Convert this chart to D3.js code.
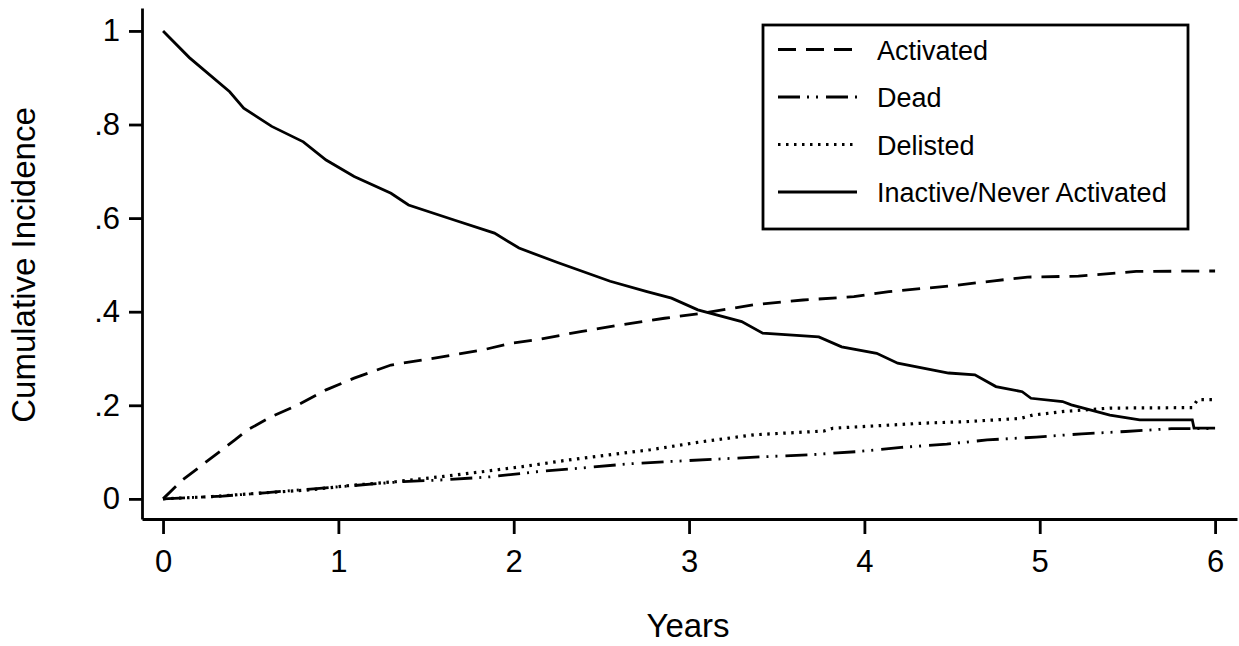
<!DOCTYPE html>
<html>
<head>
<meta charset="utf-8">
<script src="https://cdn.jsdelivr.net/npm/d3@7"></script>
<style>
  body { margin: 0; background: #fff; }
  #chart { width: 1239px; height: 646px; }
  text { font-family: "Liberation Sans", Arial, sans-serif; fill: #000; }
</style>
</head>
<body>
<div id="chart"></div>
<script>
// values
var seriesNames = ["Activated", "Dead", "Delisted", "Inactive/Never Activated"];

var activatedYears = [0, 0.11, 0.225, 0.41, 0.48, 0.62, 0.77, 0.93, 1.09, 1.30, 1.50, 1.66, 1.82, 1.99, 2.13, 2.39, 2.58, 2.86, 3.08, 3.37, 3.65, 3.94, 4.14, 4.49, 4.74, 4.93, 5.22, 5.55, 5.97, 6.0];
var activatedValues = [0, 0.04, 0.073, 0.126, 0.147, 0.176, 0.201, 0.233, 0.258, 0.286, 0.298, 0.308, 0.318, 0.333, 0.340, 0.358, 0.370, 0.386, 0.397, 0.415, 0.425, 0.432, 0.443, 0.455, 0.466, 0.474, 0.476, 0.486, 0.487, 0.487];

var deadYears = [0, 0.34, 0.58, 0.84, 1.37, 1.62, 1.86, 2.13, 2.39, 2.66, 2.90, 3.16, 3.42, 3.68, 3.96, 4.21, 4.47, 4.70, 4.98, 5.24, 5.49, 5.75, 6.0];
var deadValues = [0, 0.006, 0.013, 0.021, 0.037, 0.041, 0.047, 0.058, 0.066, 0.075, 0.080, 0.085, 0.090, 0.094, 0.101, 0.110, 0.117, 0.126, 0.132, 0.139, 0.144, 0.150, 0.150];

var delistedYears = [0, 0.28, 0.54, 0.83, 1.05, 1.33, 1.60, 1.82, 2.05, 2.31, 2.54, 2.78, 3.07, 3.37, 3.77, 3.82, 4.35, 4.58, 4.89, 4.96, 5.14, 5.40, 5.87, 5.90, 6.0];
var delistedValues = [0, 0.005, 0.012, 0.019, 0.028, 0.037, 0.048, 0.058, 0.069, 0.083, 0.094, 0.105, 0.122, 0.137, 0.145, 0.151, 0.162, 0.165, 0.172, 0.179, 0.187, 0.194, 0.195, 0.212, 0.212];

var inactiveYears = [0, 0.15, 0.38, 0.46, 0.62, 0.80, 0.93, 1.09, 1.30, 1.40, 1.66, 1.89, 2.03, 2.25, 2.55, 2.76, 2.90, 3.05, 3.30, 3.42, 3.74, 3.87, 4.07, 4.19, 4.48, 4.63, 4.75, 4.90, 4.95, 5.13, 5.18, 5.40, 5.57, 5.87, 5.88, 6.0];
var inactiveValues = [1.0, 0.943, 0.870, 0.835, 0.796, 0.763, 0.724, 0.689, 0.653, 0.628, 0.596, 0.568, 0.536, 0.505, 0.465, 0.443, 0.429, 0.404, 0.379, 0.354, 0.346, 0.325, 0.311, 0.290, 0.269, 0.265, 0.240, 0.229, 0.215, 0.208, 0.201, 0.179, 0.169, 0.169, 0.151, 0.151];

var xTicks = [0, 1, 2, 3, 4, 5, 6];
var yTicks = [0, 0.2, 0.4, 0.6, 0.8, 1];
var yTickLabels = ["0", ".2", ".4", ".6", ".8", "1"];

var dashes = ["18,10", "22,7,2,7,2,8", "2.5,5.5", null];

var svg = d3.select("#chart").append("svg")
    .attr("width", 1239)
    .attr("height", 646);

var x = d3.scaleLinear().domain([-0.12, 6.125]).range([142, 1237]),
    y = d3.scaleLinear().domain([-0.043, 1.049]).range([519, 8]);

var series = [
    {name: seriesNames[0], t: activatedYears, v: activatedValues, dash: dashes[0]},
    {name: seriesNames[1], t: deadYears, v: deadValues, dash: dashes[1]},
    {name: seriesNames[2], t: delistedYears, v: delistedValues, dash: dashes[2]},
    {name: seriesNames[3], t: inactiveYears, v: inactiveValues, dash: dashes[3]}
];

var line = d3.line()
    .x(function (d) { return x(d[0]); })
    .y(function (d) { return y(d[1]); });

svg.selectAll(".curve")
    .data(series)
    .enter().append("path")
    .attr("class", "curve")
    .attr("fill", "none")
    .attr("stroke", "#000")
    .attr("stroke-width", function (d) { return d.dash == dashes[2] ? 3.2 : 2.8; })
    .attr("stroke-dasharray", function (d) { return d.dash; })
    .attr("d", function (d) {
        return line(d.t.map(function (t, i) { return [t, d.v[i]]; }));
    });

// axes
var yAxis = svg.append("g")
    .attr("transform", "translate(142,0)")
    .call(d3.axisLeft(y)
        .tickValues(yTicks)
        .tickFormat(function (d, i) { return yTickLabels[i]; })
        .tickSize(13)
        .tickSizeOuter(0)
        .tickPadding(9));

var xAxis = svg.append("g")
    .attr("transform", "translate(0,519)")
    .call(d3.axisBottom(x)
        .tickValues(xTicks)
        .tickFormat(d3.format("d"))
        .tickSize(15)
        .tickSizeOuter(0));

svg.selectAll(".domain, .tick line")
    .attr("stroke", "#000")
    .attr("stroke-width", 2.8);

yAxis.selectAll("text")
    .style("font-size", "31px")
    .style("font-family", "'Liberation Sans', Arial, sans-serif");

xAxis.selectAll("text")
    .attr("y", 53)
    .attr("dy", 0)
    .style("font-size", "31px")
    .style("font-family", "'Liberation Sans', Arial, sans-serif");

svg.append("text")
    .attr("transform", "translate(35,265)rotate(-90)")
    .attr("text-anchor", "middle")
    .style("font-size", "33px")
    .text("Cumulative Incidence");

svg.append("text")
    .attr("x", 688)
    .attr("y", 637)
    .attr("text-anchor", "middle")
    .style("font-size", "33px")
    .text("Years");

// legend
var legend = svg.append("g");

legend.append("rect")
    .attr("x", 763)
    .attr("y", 25)
    .attr("width", 425)
    .attr("height", 204)
    .attr("fill", "#fff")
    .attr("stroke", "#000")
    .attr("stroke-width", 2.8);

var rows = legend.selectAll(".row")
    .data(series)
    .enter().append("g")
    .attr("class", "row")
    .attr("transform", function (d, i) { return "translate(0," + (49.5 + i * 47.5) + ")"; });

rows.append("line")
    .attr("x1", 778)
    .attr("x2", 857)
    .attr("stroke", "#000")
    .attr("stroke-width", function (d) { return d.dash == dashes[2] ? 3.2 : 2.8; })
    .attr("stroke-dasharray", function (d) { return d.dash; });

rows.append("text")
    .attr("x", 877)
    .attr("y", 10)
    .style("font-size", "27px")
    .text(function (d) { return d.name; });
</script>
</body>
</html>
